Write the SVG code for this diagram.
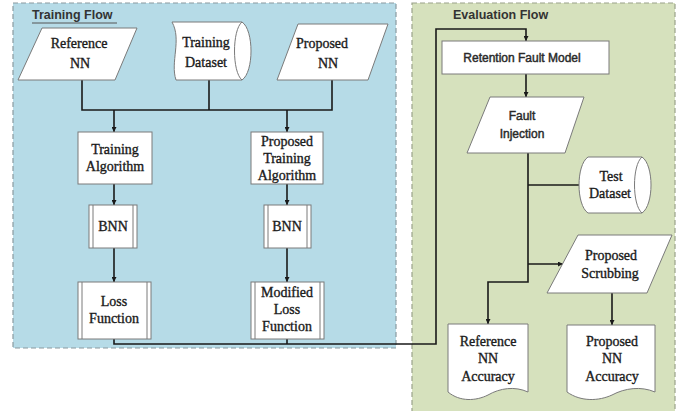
<svg xmlns="http://www.w3.org/2000/svg" width="691" height="411" viewBox="0 0 691 411">
<defs>
<style>
.panelB{fill:#b6dbe7;stroke:#8a9aa0;stroke-width:1.2;stroke-dasharray:5,3}
.panelG{fill:#d6e1bd;stroke:#9aa28a;stroke-width:1.2;stroke-dasharray:5,3}
.shape{fill:#ffffff;stroke:#7a7a7a;stroke-width:1}
.inner{fill:none;stroke:#7a7a7a;stroke-width:1}
.conn{fill:none;stroke:#1a1a1a;stroke-width:1.6}
.t{font-family:"Liberation Serif","Times New Roman",serif;font-size:14px;fill:#1a1a1a;stroke:#1a1a1a;stroke-width:0.35;text-anchor:middle}
.s{font-family:"Liberation Sans",Arial,sans-serif;font-size:12px;fill:#2a2a2a;stroke:#2a2a2a;stroke-width:0.45;text-anchor:middle}
.title{font-family:"Liberation Sans",Arial,sans-serif;font-size:12.5px;font-weight:bold;fill:#333}
</style>
<marker id="arr" viewBox="0 0 10 10" refX="10" refY="5" markerWidth="5" markerHeight="5" orient="auto" markerUnits="userSpaceOnUse">
<path d="M0,0 L10,5 L0,10 Z" fill="#1a1a1a"/>
</marker>
</defs>
<rect width="691" height="411" fill="#ffffff"/>
<g id="training-flow-panel">
<rect class="panelB" x="13" y="3" width="383" height="345"/>
<text class="title" x="32" y="19">Training Flow</text>
<line x1="32" y1="23" x2="117" y2="23" stroke="#555" stroke-width="1"/>
</g>
<g id="evaluation-flow-panel">
<rect class="panelG" x="412" y="3" width="263" height="410"/>
<text class="title" x="453" y="19">Evaluation Flow</text>
</g>

<g id="connectors">
<polyline class="conn" points="82,80 82,110 332,110 332,80"/>
<line class="conn" x1="209" y1="80" x2="209" y2="110"/>
<line class="conn" x1="114" y1="110" x2="114" y2="132" marker-end="url(#arr)"/>
<line class="conn" x1="287" y1="110" x2="287" y2="132" marker-end="url(#arr)"/>
<line class="conn" x1="114" y1="184" x2="114" y2="205" marker-end="url(#arr)"/>
<line class="conn" x1="287" y1="184" x2="287" y2="205" marker-end="url(#arr)"/>
<line class="conn" x1="114" y1="248" x2="114" y2="282" marker-end="url(#arr)"/>
<line class="conn" x1="287" y1="248" x2="287" y2="282" marker-end="url(#arr)"/>
<polyline class="conn" points="114,339 114,344 436,344 436,29 526,29 526,41" marker-end="url(#arr)"/>
<line class="conn" x1="287" y1="339" x2="287" y2="344"/>
<line class="conn" x1="526" y1="74" x2="526" y2="97" marker-end="url(#arr)"/>
<polyline class="conn" points="528,153 528,282 488,282 488,324" marker-end="url(#arr)"/>
<line class="conn" x1="528" y1="185" x2="580" y2="185"/>
<line class="conn" x1="528" y1="264" x2="563" y2="264" marker-end="url(#arr)"/>
<line class="conn" x1="612" y1="293" x2="612" y2="325" marker-end="url(#arr)"/>
</g>

<g id="reference-nn">
<polygon class="shape" points="42,28 137,28 115,80 18,80"/>
<text class="t" x="79" y="48">Reference</text>
<text class="t" x="80" y="68">NN</text>
</g>
<g id="training-dataset">
<path class="shape" d="M176,22 H242 C254,30 254,72 242,80 H176 C170,62 182,40 172,22 Z"/>
<path class="inner" d="M242,22 C232,30 232,72 242,80"/>
<text class="t" x="206" y="47">Training</text>
<text class="t" x="206" y="67">Dataset</text>
</g>
<g id="proposed-nn">
<polygon class="shape" points="298,24 388,24 368,80 277,80"/>
<text class="t" x="322" y="48">Proposed</text>
<text class="t" x="328" y="68">NN</text>
</g>
<g id="training-algorithm">
<rect class="shape" x="78" y="132" width="74" height="52"/>
<text class="t" x="115" y="154">Training</text>
<text class="t" x="115" y="171">Algorithm</text>
</g>
<g id="proposed-training-algorithm">
<rect class="shape" x="251" y="132" width="72" height="52"/>
<text class="t" x="287" y="146">Proposed</text>
<text class="t" x="287" y="163">Training</text>
<text class="t" x="287" y="180">Algorithm</text>
</g>
<g id="bnn-1">
<rect class="shape" x="89" y="205" width="48" height="43"/>
<line class="inner" x1="93" y1="205" x2="93" y2="248"/>
<line class="inner" x1="133" y1="205" x2="133" y2="248"/>
<text class="t" x="113" y="231">BNN</text>
</g>
<g id="bnn-2">
<rect class="shape" x="264" y="205" width="47" height="43"/>
<line class="inner" x1="268" y1="205" x2="268" y2="248"/>
<line class="inner" x1="307" y1="205" x2="307" y2="248"/>
<text class="t" x="287" y="231">BNN</text>
</g>
<g id="loss-function">
<rect class="shape" x="78" y="282" width="73" height="57"/>
<line class="inner" x1="82" y1="282" x2="82" y2="339"/>
<line class="inner" x1="147" y1="282" x2="147" y2="339"/>
<text class="t" x="114" y="306">Loss</text>
<text class="t" x="114" y="323">Function</text>
</g>
<g id="modified-loss-function">
<rect class="shape" x="251" y="282" width="73" height="57"/>
<line class="inner" x1="255" y1="282" x2="255" y2="339"/>
<line class="inner" x1="320" y1="282" x2="320" y2="339"/>
<text class="t" x="287" y="297">Modified</text>
<text class="t" x="287" y="314">Loss</text>
<text class="t" x="287" y="331">Function</text>
</g>
<g id="retention-fault-model">
<rect class="shape" x="442" y="41" width="167" height="33"/>
<text class="s" x="522" y="62">Retention Fault Model</text>
</g>
<g id="fault-injection">
<polygon class="shape" points="490,97 584,97 565,153 467,153"/>
<text class="s" x="522" y="120">Fault</text>
<text class="s" x="522" y="138">Injection</text>
</g>
<g id="test-dataset">
<path class="shape" d="M588,157 H642 C654,165 654,205 642,213 H588 C576,205 576,165 588,157 Z"/>
<path class="inner" d="M642,157 C632,165 632,205 642,213"/>
<text class="t" x="611" y="181">Test</text>
<text class="t" x="610" y="198">Dataset</text>
</g>
<g id="proposed-scrubbing">
<polygon class="shape" points="578,235 672,235 647,293 547,293"/>
<text class="t" x="611" y="260">Proposed</text>
<text class="t" x="610" y="278">Scrubbing</text>
</g>
<g id="reference-nn-accuracy">
<path class="shape" d="M448,324 H528 V392 C515,386 500,388 488,395 C476,401 460,402 448,392 Z"/>
<text class="t" x="488" y="346">Reference</text>
<text class="t" x="488" y="363">NN</text>
<text class="t" x="488" y="381">Accuracy</text>
</g>
<g id="proposed-nn-accuracy">
<path class="shape" d="M567,325 H655 V392 C641,386 625,388 612,395 C599,401 581,402 567,392 Z"/>
<text class="t" x="612" y="346">Proposed</text>
<text class="t" x="612" y="363">NN</text>
<text class="t" x="612" y="381">Accuracy</text>
</g>
</svg>
